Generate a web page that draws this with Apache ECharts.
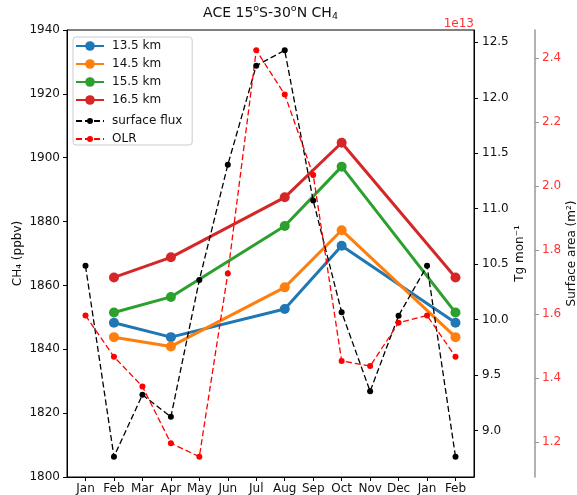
<!DOCTYPE html>
<html>
<head>
<meta charset="utf-8">
<script src="https://cdn.jsdelivr.net/npm/echarts@6/dist/echarts.min.js"></script>
<style>html,body{margin:0;padding:0;background:#fff}#c{width:577px;height:495px}</style>
</head>
<body>
<div id="c"></div>
<script>
// ---- data ----
var months = ['Jan','Feb','Mar','Apr','May','Jun','Jul','Aug','Sep','Oct','Nov','Dec','Jan','Feb'];
var aceMonthIdx = [1, 3, 7, 9, 13];              // Feb, Apr, Aug, Oct, Feb
var ch4_135 = [1848.3, 1843.8, 1852.6, 1872.4, 1848.3];
var ch4_145 = [1843.8, 1840.9, 1859.4, 1877.3, 1843.8];
var ch4_155 = [1851.5, 1856.4, 1878.6, 1897.2, 1851.5];
var ch4_165 = [1862.5, 1868.8, 1887.6, 1904.7, 1862.5];
// surface flux, in units of 1e13 Tg/mon
var surfaceFlux = [10.485, 8.765, 9.323, 9.124, 10.358, 11.396, 12.29, 12.428, 11.074, 10.067, 9.354, 10.036, 10.485, 8.765];
// OLR surface area (m^2)
var olrArea = [1.596, 1.467, 1.374, 1.197, 1.155, 1.727, 2.424, 2.286, 2.035, 1.454, 1.438, 1.573, 1.596, 1.467];
var ch4Ticks = [1800, 1820, 1840, 1860, 1880, 1900, 1920, 1940];
var fluxTicks = [9.0, 9.5, 10.0, 10.5, 11.0, 11.5, 12.0, 12.5];
var olrTicks = [1.2, 1.4, 1.6, 1.8, 2.0, 2.2, 2.4];

var FONT = 'DejaVu Sans';
function pairs(xs, ys) { return ys.map(function (v, i) { return [xs[i], v]; }); }
var allIdx = months.map(function (m, i) { return i; });

// matplotlib-like 5% margins
function padRange(arr) {
  var mn = Math.min.apply(null, arr), mx = Math.max.apply(null, arr), d = (mx - mn) * 0.05;
  return [mn - d, mx + d];
}
var fluxR = padRange(surfaceFlux), olrR = padRange(olrArea);

var kmSeries = [
  ['13.5 km', ch4_135, '#1f77b4'],
  ['14.5 km', ch4_145, '#ff7f0e'],
  ['15.5 km', ch4_155, '#2ca02c'],
  ['16.5 km', ch4_165, '#d62728']
].map(function (s) {
  return {
    name: s[0], type: 'line', xAxisIndex: 0, yAxisIndex: 0,
    data: pairs(aceMonthIdx, s[1]),
    symbol: 'circle', symbolSize: 10, color: s[2],
    lineStyle: { width: 3, color: s[2] }, itemStyle: { color: s[2] },
    emphasis: { disabled: true }, z: 2
  };
});

var chart = echarts.init(document.getElementById('c'), null, { renderer: 'canvas' });
chart.setOption({
  animation: false,
  backgroundColor: '#fff',
  textStyle: { fontFamily: FONT },
  title: [{
    text: 'ACE 15{sup|o}S-30{sup|o}N CH{sub|4}',
    left: 270.5, top: 4, padding: 0, textAlign: 'center',
    textStyle: {
      fontFamily: FONT, fontSize: 14, fontWeight: 'normal', color: '#111', lineHeight: 18,
      rich: {
        sup: { fontFamily: FONT, fontSize: 9.5, color: '#111', verticalAlign: 'top', lineHeight: 11 },
        sub: { fontFamily: FONT, fontSize: 9.5, color: '#111', verticalAlign: 'bottom', lineHeight: 9 }
      }
    }
  }, {
    text: '1e13', right: 103, top: 18, padding: 0,
    textStyle: { fontFamily: FONT, fontSize: 12, fontWeight: 'normal', color: '#ff3333' }
  }],
  grid: { left: 67, right: 103, top: 30, bottom: 18, show: true, borderColor: '#000', borderWidth: 1,
    containLabel: false, outerBoundsMode: 'none' },
  legend: [{
    orient: 'vertical', left: 73, top: 37,
    padding: [3, 31, 39, 2],
    itemWidth: 28, itemHeight: 12, itemGap: 6,
    backgroundColor: 'rgba(255,255,255,0.85)', borderColor: '#cccccc', borderWidth: 1, borderRadius: 3,
    textStyle: { fontFamily: FONT, fontSize: 12, color: '#111', padding: [0, 0, 0, 3] },
    data: ['13.5 km', '14.5 km', '15.5 km', '16.5 km']
  }, {
    orient: 'vertical', left: 73, top: 112,
    padding: [3, 8, 3, 2],
    itemWidth: 28, itemHeight: 7.5, itemGap: 6,
    textStyle: { fontFamily: FONT, fontSize: 12, color: '#111', padding: [0, 0, 0, 3] },
    data: ['surface flux', 'OLR']
  }],
  xAxis: [{
    type: 'value', min: -0.65, max: 13.65,
    axisLine: { show: true, onZero: false, lineStyle: { color: '#000', width: 1 } },
    axisTick: { show: true, customValues: allIdx, length: 4, lineStyle: { color: '#000' } },
    axisLabel: {
      customValues: allIdx, margin: 6, fontSize: 12, color: '#111', fontFamily: FONT,
      formatter: function (v) { return months[Math.round(v)]; }
    },
    splitLine: { show: false }
  }],
  yAxis: [{
    type: 'value', position: 'left', min: 1800, max: 1940, interval: 20,
    axisLine: { show: true, onZero: false, lineStyle: { color: '#000' } },
    axisTick: { show: true, length: 4, lineStyle: { color: '#000' } },
    axisLabel: { margin: 7, fontSize: 12, color: '#111', fontFamily: FONT,
      formatter: function (v) { return String(v); } },
    splitLine: { show: false },
    name: 'CH₄ (ppbv)', nameLocation: 'middle', nameRotate: 90, nameGap: 43, nameMoveOverlap: false,
    nameTextStyle: { fontSize: 12, color: '#111', fontFamily: FONT }
  }, {
    type: 'value', position: 'right', offset: 0, min: fluxR[0], max: fluxR[1],
    axisLine: { show: true, onZero: false, lineStyle: { color: '#000' } },
    axisTick: { show: true, customValues: fluxTicks, length: 4, lineStyle: { color: '#000' } },
    axisLabel: { customValues: fluxTicks, margin: 8, fontSize: 12, color: '#111', fontFamily: FONT,
      formatter: function (v) { return v.toFixed(1); } },
    splitLine: { show: false },
    name: 'Tg mon⁻¹', nameLocation: 'middle', nameRotate: 90, nameGap: 40, nameMoveOverlap: false,
    nameTextStyle: { fontSize: 12, color: '#111', fontFamily: FONT }
  }, {
    type: 'value', position: 'right', offset: 61, min: olrR[0], max: olrR[1],
    axisLine: { show: true, onZero: false, lineStyle: { color: '#999', width: 1.5 } },
    axisTick: { show: true, customValues: olrTicks, length: 4, lineStyle: { color: '#999' } },
    axisLabel: { customValues: olrTicks, margin: 7, fontSize: 12, color: '#ff3333', fontFamily: FONT,
      formatter: function (v) { return v.toFixed(1); } },
    splitLine: { show: false },
    name: 'Surface area (m²)', nameLocation: 'middle', nameRotate: 90, nameGap: 31, nameMoveOverlap: false,
    nameTextStyle: { fontSize: 12, color: '#111', fontFamily: FONT }
  }],
  series: kmSeries.concat([{
    name: 'surface flux', type: 'line', xAxisIndex: 0, yAxisIndex: 1,
    data: pairs(allIdx, surfaceFlux),
    symbol: 'circle', symbolSize: 6, color: '#000',
    lineStyle: { width: 1.3, color: '#000', type: [6, 3] }, itemStyle: { color: '#000' },
    emphasis: { disabled: true }, z: 3
  }, {
    name: 'OLR', type: 'line', xAxisIndex: 0, yAxisIndex: 2,
    data: pairs(allIdx, olrArea),
    symbol: 'circle', symbolSize: 6, color: '#ff0000',
    lineStyle: { width: 1.3, color: '#ff0000', type: [6, 3] }, itemStyle: { color: '#ff0000' },
    emphasis: { disabled: true }, z: 3
  }])
});
</script>
</body>
</html>
